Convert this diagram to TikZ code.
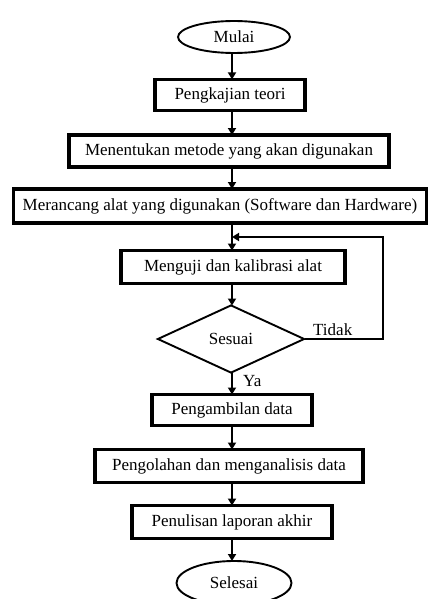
\documentclass[tikz,border=0pt]{standalone}
\usepackage{fontspec}
\setmainfont{Liberation Serif}
\usetikzlibrary{shapes.geometric,arrows.meta}
\begin{document}
\begin{tikzpicture}[x=1pt,y=-1pt,
  every node/.style={font=\fontsize{17}{19}\selectfont, inner sep=0pt},
  procbox/.style={draw, line width=3.4pt, rectangle},
  term/.style={draw, line width=1.9pt, ellipse},
  decis/.style={draw, line width=1.9pt, diamond, aspect=2.1},
  conn/.style={line width=1.9pt, -{Triangle[length=7pt,width=8pt]}},
  plain/.style={line width=1.9pt}]
\useasboundingbox (0,0) rectangle (433,599);
\node[term, minimum width=112pt, minimum height=32pt] (mulai) at (234,37) {Mulai};
\node[procbox, minimum width=150pt, minimum height=31pt] (n1) at (230,95) {Pengkajian teori};
\node[procbox, minimum width=320pt, minimum height=32pt] (n2) at (229,151) {Menentukan metode yang akan digunakan};
\node[procbox, minimum width=413pt, minimum height=34pt] (n3) at (220,206) {Merancang alat yang digunakan (Software dan Hardware)};
\node[procbox, minimum width=224pt, minimum height=33pt] (n4) at (233,267) {Menguji dan kalibrasi alat};
\node[decis, minimum width=147pt, minimum height=68pt] (d) at (231,339) {Sesuai};
\node[procbox, minimum width=160pt, minimum height=31pt] (n5) at (232,410) {Pengambilan data};
\node[procbox, minimum width=268pt, minimum height=33pt] (n6) at (229,466) {Pengolahan dan menganalisis data};
\node[procbox, minimum width=200pt, minimum height=33pt] (n7) at (232,522) {Penulisan laporan akhir};
\node[term, minimum width=115pt, minimum height=44pt] (sel) at (234,583) {Selesai};
\coordinate (fbR) at (383,339);
\coordinate (fbT) at (383,237);
\coordinate (fbE) at (232,237);
\draw[conn] (232,53) -- (232,79.4);
\draw[conn] (232,110.6) -- (232,135);
\draw[conn] (232,167) -- (232,189);
\draw[conn] (232,223) -- (232,250.5);
\draw[conn] (232,283.5) -- (232,305.5);
\draw[conn] (232,372.5) -- (232,394.5);
\draw[conn] (232,425.5) -- (232,449.5);
\draw[conn] (232,482.5) -- (232,505.5);
\draw[conn] (232,538.5) -- (232,561);
\draw[conn] (d.east) -- (fbR) -- (fbT) -- (fbE);
\node[anchor=south west] (tidak) at (313,336) {Tidak};
\node[anchor=west] (ya) at (243,381) {Ya};
\end{tikzpicture}
\end{document}
